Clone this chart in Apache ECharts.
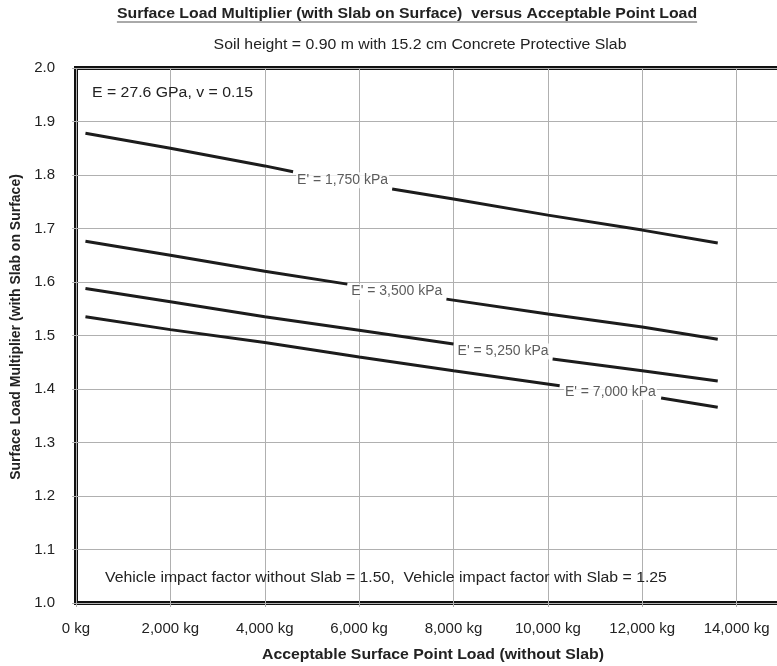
<!DOCTYPE html>
<html>
<head>
<meta charset="utf-8">
<script src="https://cdn.jsdelivr.net/npm/echarts@6/dist/echarts.min.js"></script>
<style>
  html, body { margin: 0; padding: 0; background: #fff; }
  #chart { width: 777px; height: 666px; }
</style>
</head>
<body>
<div id="chart"></div>
<script>
// Surface load multiplier curves, one per soil modulus E'.
// Each curve is [load kg, multiplier]; the '-' entry marks the break where its label sits.
const curveE1750 = [[200, 1.878], [2000, 1.850], [4000, 1.817], [4600, 1.806], [5650, '-'],
                    [6700, 1.774], [8000, 1.755], [10000, 1.725], [12000, 1.697], [13600, 1.673]];
const curveE3500 = [[200, 1.676], [2000, 1.650], [4000, 1.620], [5750, 1.596], [6800, '-'],
                    [7850, 1.568], [10000, 1.540], [12000, 1.516], [13600, 1.493]];
const curveE5250 = [[200, 1.588], [2000, 1.563], [4000, 1.535], [6000, 1.510], [8000, 1.484], [9050, '-'],
                    [10100, 1.456], [12000, 1.434], [13600, 1.415]];
const curveE7000 = [[200, 1.535], [2000, 1.511], [4000, 1.487], [6000, 1.460], [8000, 1.434], [10250, 1.406], [11325, '-'],
                    [12400, 1.383], [13600, 1.366]];

const curveNames = ["E' = 1,750 kPa", "E' = 3,500 kPa", "E' = 5,250 kPa", "E' = 7,000 kPa"];
const curves = [curveE1750, curveE3500, curveE5250, curveE7000];

// Axis ticks
const xTicksKg = [0, 2000, 4000, 6000, 8000, 10000, 12000, 14000, 16000];
const yTicks = [1.0, 1.1, 1.2, 1.3, 1.4, 1.5, 1.6, 1.7, 1.8, 1.9, 2.0];

const titleText = 'Surface Load Multiplier (with Slab on Surface)  versus Acceptable Point Load';
const subtitleText = 'Soil height = 0.90 m with 15.2 cm Concrete Protective Slab';
const noteTop = 'E = 27.6 GPa, v = 0.15';
const noteBottom = 'Vehicle impact factor without Slab = 1.50,  Vehicle impact factor with Slab = 1.25';
const xName = 'Acceptable Surface Point Load (without Slab)';
const yName = 'Surface Load Multiplier (with Slab on Surface)';

const FONT = 'Liberation Sans, Arial, sans-serif';
const WIDE = 1.13; // horizontal stretch applied to the free text blocks

// Label anchor: middle of the break in each curve
function labelPoint(curve, text) {
  const i = curve.findIndex(p => p[1] === '-');
  const a = curve[i - 1], b = curve[i + 1];
  return [(a[0] + b[0]) / 2, (a[1] + b[1]) / 2, text];
}

function textWidth(str, font) {
  const c = document.createElement('canvas').getContext('2d');
  c.font = font;
  return c.measureText(str).width;
}

// Free text: centred (or left-anchored) at x,y and stretched horizontally
function wideText(str, font, x, y, align, extra) {
  return Object.assign({
    type: 'text', x: x, y: y, scaleX: WIDE, z: 10, silent: true,
    style: { text: str, font: font, fill: '#222', x: 0, y: 0, align: align, verticalAlign: 'middle' }
  }, extra || {});
}

const titleFont = 'bold 14px ' + FONT;
const titleW = textWidth(titleText, titleFont) * WIDE;
const titleCx = 407, titleY = 14;

const chart = echarts.init(document.getElementById('chart'), null, { renderer: 'canvas' });

const lineSeries = curves.map((c, k) => ({
  type: 'line',
  name: curveNames[k],
  data: c,
  showSymbol: false,
  symbol: 'none',
  connectNulls: false,
  lineStyle: { color: '#1c1c1c', width: 3 },
  z: 3,
  silent: true
}));

const labelSeries = {
  type: 'scatter',
  data: curves.map((c, k) => labelPoint(c, curveNames[k])),
  symbolSize: 0,
  silent: true,
  z: 4,
  label: {
    show: true,
    position: 'inside',
    formatter: p => p.value[2],
    fontFamily: FONT,
    fontSize: 14,
    color: '#333',
    backgroundColor: '#fff',
    padding: [1, 1]
  }
};

chart.setOption({
  animation: false,
  backgroundColor: '#fff',
  grid: {
    left: 76, top: 68, width: 755, height: 535,
    outerBoundsMode: 'none', containLabel: false,
    show: true, borderColor: '#111', borderWidth: 4, backgroundColor: 'transparent'
  },
  xAxis: {
    type: 'value',
    min: xTicksKg[0], max: xTicksKg[xTicksKg.length - 1], interval: 2000,
    axisLine: { show: false },
    axisTick: { show: true, length: 4, lineStyle: { color: '#b0b0b0' } },
    splitLine: { show: true, lineStyle: { color: '#b0b0b0', width: 1 } },
    axisLabel: {
      formatter: v => v.toLocaleString('en-US') + ' kg',
      fontFamily: FONT, fontSize: 15, color: '#222', margin: 18
    }
  },
  yAxis: {
    type: 'value',
    min: yTicks[0], max: yTicks[yTicks.length - 1], interval: 0.1,
    axisLine: { show: false },
    axisTick: { show: true, length: 4, lineStyle: { color: '#b0b0b0' } },
    splitLine: { show: true, lineStyle: { color: '#b0b0b0', width: 1 } },
    axisLabel: {
      formatter: v => v.toFixed(1),
      fontFamily: FONT, fontSize: 15, color: '#222', margin: 21
    }
  },
  graphic: [
    wideText(titleText, titleFont, titleCx, titleY, 'center'),
    {
      type: 'line', silent: true,
      shape: { x1: titleCx - titleW / 2, y1: titleY + 8, x2: titleCx + titleW / 2, y2: titleY + 8 },
      style: { stroke: '#555', lineWidth: 1 }
    },
    wideText(subtitleText, '14px ' + FONT, 420, 45, 'center'),
    wideText(noteTop, '14px ' + FONT, 92, 93, 'left'),
    wideText(noteBottom, '14px ' + FONT, 105, 578, 'left'),
    wideText(xName, 'bold 14px ' + FONT, 433, 655, 'center'),
    {
      type: 'text', x: 16, y: 327, rotation: Math.PI / 2, silent: true, z: 10,
      style: { text: yName, font: 'bold 14px ' + FONT, fill: '#222', x: 0, y: 0,
               align: 'center', verticalAlign: 'middle' }
    }
  ],
  series: [...lineSeries, labelSeries]
});
</script>
</body>
</html>
